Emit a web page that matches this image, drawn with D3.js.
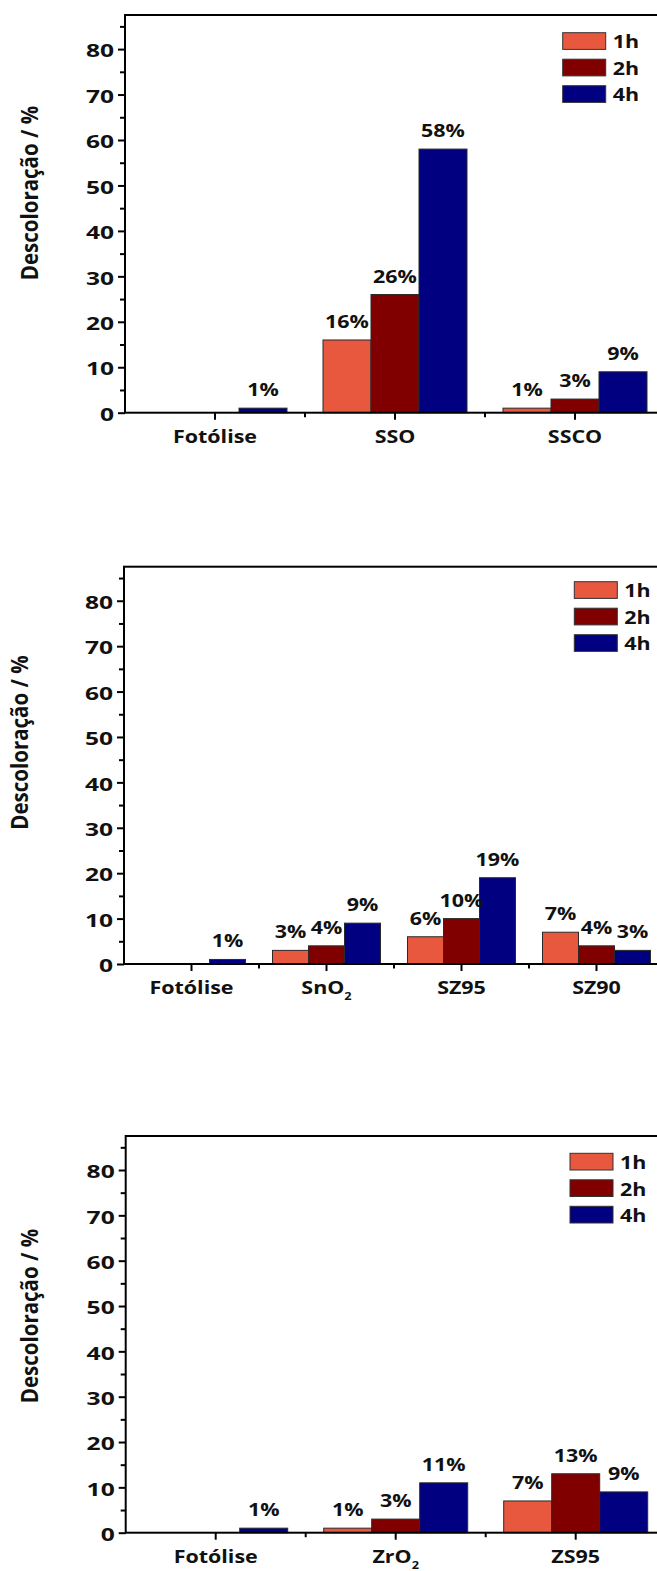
<!DOCTYPE html>
<html><head><meta charset="utf-8">
<script src="https://cdn.jsdelivr.net/npm/d3@7"></script>
<style>
body{margin:0;background:#fff}
svg{display:block}
text{font-family:"Open Sans",sans-serif;font-weight:700;fill:#111}
</style>
</head><body>
<svg id="c" width="657" height="1571"></svg>
<script>
// ---- data ----
const seriesNames = ["1h", "2h", "4h"];
const seriesColors = ["#E8583F", "#800000", "#000080"];
const yMajorTicks = [0, 10, 20, 30, 40, 50, 60, 70, 80];
const yMinorTicks = [5, 15, 25, 35, 45, 55, 65, 75, 85];
const yLabel = "Descoloração / %";

const p1Categories = ["Fotólise", "SSO", "SSCO"];
const p1Values1h = [0, 16, 1];
const p1Values2h = [0, 26, 3];
const p1Values4h = [1, 58, 9];

const p2Categories = ["Fotólise", "SnO_2", "SZ95", "SZ90"];
const p2Values1h = [0, 3, 6, 7];
const p2Values2h = [0, 4, 10, 4];
const p2Values4h = [1, 9, 19, 3];

const p3Categories = ["Fotólise", "ZrO_2", "ZS95"];
const p3Values1h = [0, 1, 7];
const p3Values2h = [0, 3, 13];
const p3Values4h = [1, 11, 9];

// ---- layout ----
const SX = 1.16;       // horizontal stretch of text
const SXT = 1.33;      // stretch for y tick labels
const FS = 18.5;
const yMax = 87.5;
const panels = [
  {cats: p1Categories, vals: [p1Values1h, p1Values2h, p1Values4h],
   left: 125, right: 665, top: 15, zero: 412.7, ylabX: 38, ylabY: 193, legX: 562.7, legY: 32.7},
  {cats: p2Categories, vals: [p2Values1h, p2Values2h, p2Values4h],
   left: 124, right: 664, top: 566.7, zero: 964, ylabX: 28, ylabY: 742.5, legX: 574.3, legY: 581.7},
  {cats: p3Categories, vals: [p3Values1h, p3Values2h, p3Values4h],
   left: 125.7, right: 665.7, top: 1136, zero: 1532.7, ylabX: 38, ylabY: 1316, legX: 570, legY: 1153.3}
];

const svg = d3.select("#c");

function addLabel(g, txt) {
  const parts = txt.split("_");
  g.append("tspan").text(parts[0]);
  if (parts.length > 1) {
    g.append("tspan").attr("dy", 6).style("font-size", "11px").text(parts[1]);
  }
}

panels.forEach(p => {
  const g = svg.append("g");
  const y = d3.scaleLinear().domain([0, yMax]).range([p.zero, p.top]);
  const x0 = d3.scaleBand().domain(p.cats).range([p.left, p.right]).paddingInner(0.2).paddingOuter(0.1);
  const x1 = d3.scaleBand().domain(seriesNames).range([0, x0.bandwidth()]);

  // bars
  const rows = [];
  p.cats.forEach((c, i) => seriesNames.forEach((s, j) => rows.push({c, s, j, v: p.vals[j][i]})));
  const shown = rows.filter(d => d.v > 0);
  g.selectAll("rect.bar").data(shown).enter().append("rect")
    .attr("class", "bar")
    .attr("x", d => x0(d.c) + x1(d.s))
    .attr("y", d => y(d.v))
    .attr("width", x1.bandwidth())
    .attr("height", d => y(0) - y(d.v))
    .attr("fill", d => seriesColors[d.j])
    .attr("stroke", "#2a2a2a").attr("stroke-width", 1);

  // value labels
  g.selectAll("text.val").data(shown).enter().append("text")
    .attr("class", "val")
    .attr("text-anchor", "middle")
    .attr("transform", d => `translate(${x0(d.c) + x1(d.s) + x1.bandwidth() / 2},${y(d.v) - 12}) scale(${SX},1)`)
    .style("font-size", FS + "px")
    .text(d => d.v + "%");

  // frame
  g.append("rect")
    .attr("x", p.left).attr("y", p.top)
    .attr("width", p.right - p.left).attr("height", p.zero - p.top)
    .attr("fill", "none").attr("stroke", "#000").attr("stroke-width", 2);

  // y axis major
  const ya = g.append("g").attr("transform", `translate(${p.left},0)`)
    .call(d3.axisLeft(y).tickValues(yMajorTicks).tickSize(7).tickPadding(0));
  ya.select(".domain").remove();
  ya.selectAll("line").attr("stroke", "#000").attr("stroke-width", 2);
  ya.attr("font-family", null).attr("font-size", null);
  ya.selectAll("text")
    .attr("x", null).attr("dy", null)
    .attr("dominant-baseline", "central")
    .attr("transform", `translate(-11,0.5) scale(${SXT},1)`)
    .style("font-size", FS + "px").attr("fill", "#111");

  // y axis minor
  const ym = g.append("g").attr("transform", `translate(${p.left},0)`)
    .call(d3.axisLeft(y).tickValues(yMinorTicks).tickSize(5).tickFormat(""));
  ym.select(".domain").remove();
  ym.selectAll("line").attr("stroke", "#000").attr("stroke-width", 2);

  // x axis major ticks
  const xa = g.append("g").attr("transform", `translate(0,${p.zero})`)
    .call(d3.axisBottom(x0).tickSize(7).tickFormat(""));
  xa.select(".domain").remove();
  xa.selectAll("line").attr("stroke", "#000").attr("stroke-width", 2);

  // x axis minor ticks at category boundaries
  g.selectAll("line.xminor").data(p.cats.slice(0, -1)).enter().append("line")
    .attr("class", "xminor")
    .attr("x1", d => x0(d) + x0.bandwidth() / 2 + x0.step() / 2)
    .attr("x2", d => x0(d) + x0.bandwidth() / 2 + x0.step() / 2)
    .attr("y1", p.zero).attr("y2", p.zero + 4.5)
    .attr("stroke", "#000").attr("stroke-width", 2);

  // x labels
  g.selectAll("text.xl").data(p.cats).enter().append("text")
    .attr("class", "xl")
    .attr("text-anchor", "middle")
    .attr("transform", d => `translate(${x0(d) + x0.bandwidth() / 2},${p.zero + 30}) scale(${SX},1)`)
    .style("font-size", FS + "px")
    .each(function(d) { addLabel(d3.select(this), d); });

  // y label
  g.append("text")
    .attr("text-anchor", "middle")
    .attr("transform", `translate(${p.ylabX},${p.ylabY}) scale(1.1,1) rotate(-90)`)
    .style("font-size", "20.5px")
    .text(yLabel);

  // legend
  const leg = g.append("g").attr("transform", `translate(${p.legX},${p.legY})`);
  seriesNames.forEach((s, j) => {
    leg.append("rect")
      .attr("x", 0).attr("y", j * 26.5)
      .attr("width", 43).attr("height", 16.7)
      .attr("fill", seriesColors[j]).attr("stroke", "#333").attr("stroke-width", 1);
    leg.append("text")
      .attr("dominant-baseline", "central")
      .attr("transform", `translate(50,${j * 26.5 + 8.8}) scale(${SX},1)`)
      .style("font-size", FS + "px")
      .text(s);
  });
});
</script>
</body></html>
